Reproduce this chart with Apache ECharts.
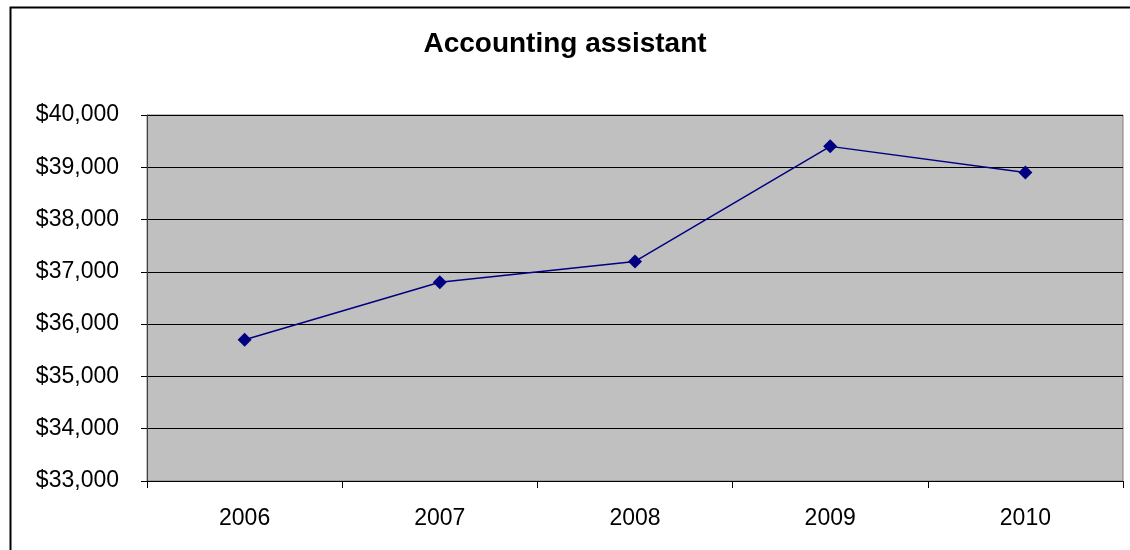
<!DOCTYPE html>
<html>
<head>
<meta charset="utf-8">
<script src="https://cdn.jsdelivr.net/npm/echarts@6/dist/echarts.min.js"></script>
<style>
html,body{margin:0;padding:0;background:#fff;}
#chart{width:1130px;height:550px;}
</style>
</head>
<body>
<div id="chart"></div>
<script>
const categories = ['2006', '2007', '2008', '2009', '2010'];
const salaries = [35700, 36800, 37200, 39400, 38900];
const titleText = 'Accounting assistant';

const chart = echarts.init(document.getElementById('chart'), null, {renderer: 'canvas'});
chart.setOption({
  animation: false,
  backgroundColor: '#ffffff',
  title: {
    text: titleText,
    left: 'center',
    top: 25,
    textStyle: {fontFamily: 'Liberation Sans, Arial', fontSize: 28, fontWeight: 'bold', color: '#000'}
  },
  graphic: [{
    type: 'rect',
    left: 8, top: 5,
    shape: {x: 0, y: 0, width: 1200, height: 600},
    style: {fill: 'none', stroke: '#000', lineWidth: 2},
    silent: true, z: 100
  }],
  grid: {
    left: 147, right: 7, top: 115, bottom: 69,
    show: true,
    backgroundColor: '#C0C0C0',
    borderColor: '#808080',
    borderWidth: 1
  },
  xAxis: {
    type: 'category',
    data: categories,
    boundaryGap: true,
    axisLine: {show: true, lineStyle: {color: '#000', width: 1}},
    axisTick: {show: true, length: 7, lineStyle: {color: '#000'}},
    axisLabel: {margin: 26, fontFamily: 'Liberation Sans, Arial', fontSize: 23, color: '#000'},
    splitLine: {show: false}
  },
  yAxis: {
    type: 'value',
    min: 33000, max: 40000, interval: 1000,
    axisLine: {show: true, lineStyle: {color: '#404040', width: 1}},
    axisTick: {show: true, length: 6, lineStyle: {color: '#000'}},
    axisLabel: {
      margin: 28,
      fontFamily: 'Liberation Sans, Arial', fontSize: 23, color: '#000',
      formatter: v => '$' + v.toLocaleString('en-US')
    },
    splitLine: {show: true, lineStyle: {color: '#000', width: 1}}
  },
  series: [{
    type: 'line',
    data: salaries,
    symbol: 'diamond',
    symbolSize: 14,
    lineStyle: {color: '#000080', width: 1.5},
    itemStyle: {color: '#000080'}
  }]
});
</script>
</body>
</html>
